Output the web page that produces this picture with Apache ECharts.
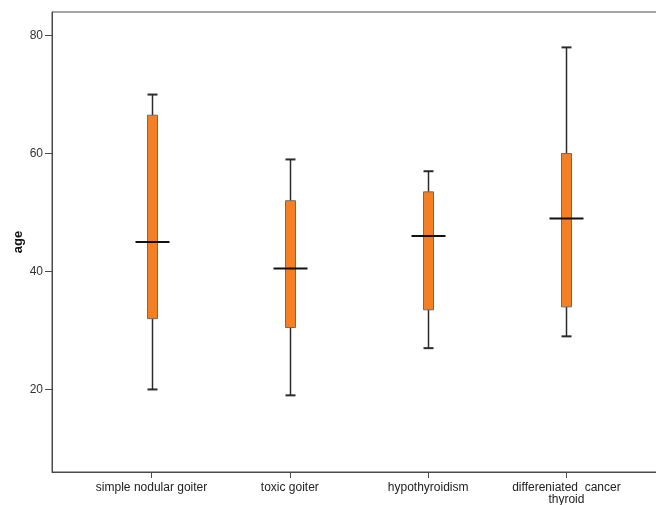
<!DOCTYPE html>
<html>
<head>
<meta charset="utf-8">
<script src="https://cdn.jsdelivr.net/npm/echarts@6/dist/echarts.min.js"></script>
<style>html,body{margin:0;padding:0;background:#fff;overflow:hidden;width:656px;height:505px;}#c{width:666px;height:505px;}</style>
</head>
<body>
<div id="c"></div>
<script>
var categories = ['simple nodular goiter', 'toxic goiter', 'hypothyroidism', 'differeniated  cancer\nthyroid'];
var whiskerLow = [20, 19, 27, 29];
var q1 = [32, 30.5, 33.5, 34];
var median = [45, 40.5, 46, 49];
var q3 = [66.5, 52, 53.5, 60];
var whiskerHigh = [70, 59, 57, 78];
var yTicks = [20, 40, 60, 80];
var xTicks = [0, 1, 2, 3];

var data = categories.map(function (c, i) {
  return [i, whiskerLow[i], q1[i], median[i], q3[i], whiskerHigh[i]];
});

var chart = echarts.init(document.getElementById('c'), null, {renderer: 'canvas'});
var BOX_W = 10, CAP_W = 10, MED_W = 34;
var lineCol = '#2b2b2b';

chart.setOption({
  animation: false,
  backgroundColor: '#ffffff',
  grid: {left: 52, top: 12, right: 0, bottom: 33, outerBoundsMode: 'none', containLabel: false,
    show: true, borderColor: '#4a4a4a', borderWidth: 1, backgroundColor: 'transparent'},
  xAxis: {
    type: 'value', min: -0.72, max: 3.72,
    axisLine: {show: true, onZero: false, lineStyle: {color: '#4a4a4a', width: 1}},
    axisTick: {show: true, customValues: xTicks, length: 6, lineStyle: {color: '#4a4a4a'}},
    axisLabel: {
      customValues: xTicks, margin: 10,
      fontFamily: 'Liberation Sans, Arial, sans-serif', fontSize: 12, color: '#222', lineHeight: 12,
      formatter: function (v) { return categories[Math.round(v)] || ''; }
    },
    splitLine: {show: false}
  },
  yAxis: {
    type: 'value', min: 6, max: 84,
    name: 'age', nameLocation: 'middle', nameGap: 27, nameMoveOverlap: false,
    nameTextStyle: {fontFamily: 'Liberation Sans, Arial, sans-serif', fontSize: 13, fontWeight: 'bold', color: '#111'},
    axisLine: {show: true, onZero: false, lineStyle: {color: '#4a4a4a', width: 1}},
    axisTick: {show: true, customValues: yTicks, length: 7, lineStyle: {color: '#4a4a4a'}},
    axisLabel: {customValues: yTicks, margin: 9, fontFamily: 'Liberation Sans, Arial, sans-serif', fontSize: 12, color: '#333'},
    splitLine: {show: false}
  },
  series: [{
    type: 'custom',
    data: data,
    encode: {x: 0, y: [1, 2, 3, 4, 5]},
    renderItem: function (params, api) {
      var x = api.value(0);
      var pLow = api.coord([x, api.value(1)]);
      var pQ1 = api.coord([x, api.value(2)]);
      var pMed = api.coord([x, api.value(3)]);
      var pQ3 = api.coord([x, api.value(4)]);
      var pHigh = api.coord([x, api.value(5)]);
      var cx = Math.round(pMed[0]) + 0.5;
      var ls = {stroke: lineCol, lineWidth: 1.5};
      return {
        type: 'group',
        children: [
          {type: 'line', shape: {x1: cx, y1: pHigh[1], x2: cx, y2: pQ3[1]}, style: ls},
          {type: 'line', shape: {x1: cx, y1: pQ1[1], x2: cx, y2: pLow[1]}, style: ls},
          {type: 'line', shape: {x1: cx - CAP_W / 2, y1: pHigh[1], x2: cx + CAP_W / 2, y2: pHigh[1]}, style: {stroke: lineCol, lineWidth: 2}},
          {type: 'line', shape: {x1: cx - CAP_W / 2, y1: pLow[1], x2: cx + CAP_W / 2, y2: pLow[1]}, style: {stroke: lineCol, lineWidth: 2}},
          {type: 'rect', shape: {x: cx - BOX_W / 2, y: pQ3[1], width: BOX_W, height: pQ1[1] - pQ3[1]},
            style: {fill: '#F47F24', stroke: '#6b6b6b', lineWidth: 1}},
          {type: 'line', shape: {x1: cx - MED_W / 2, y1: pMed[1], x2: cx + MED_W / 2, y2: pMed[1]}, style: {stroke: '#111', lineWidth: 2}}
        ]
      };
    }
  }]
});
</script>
</body>
</html>
